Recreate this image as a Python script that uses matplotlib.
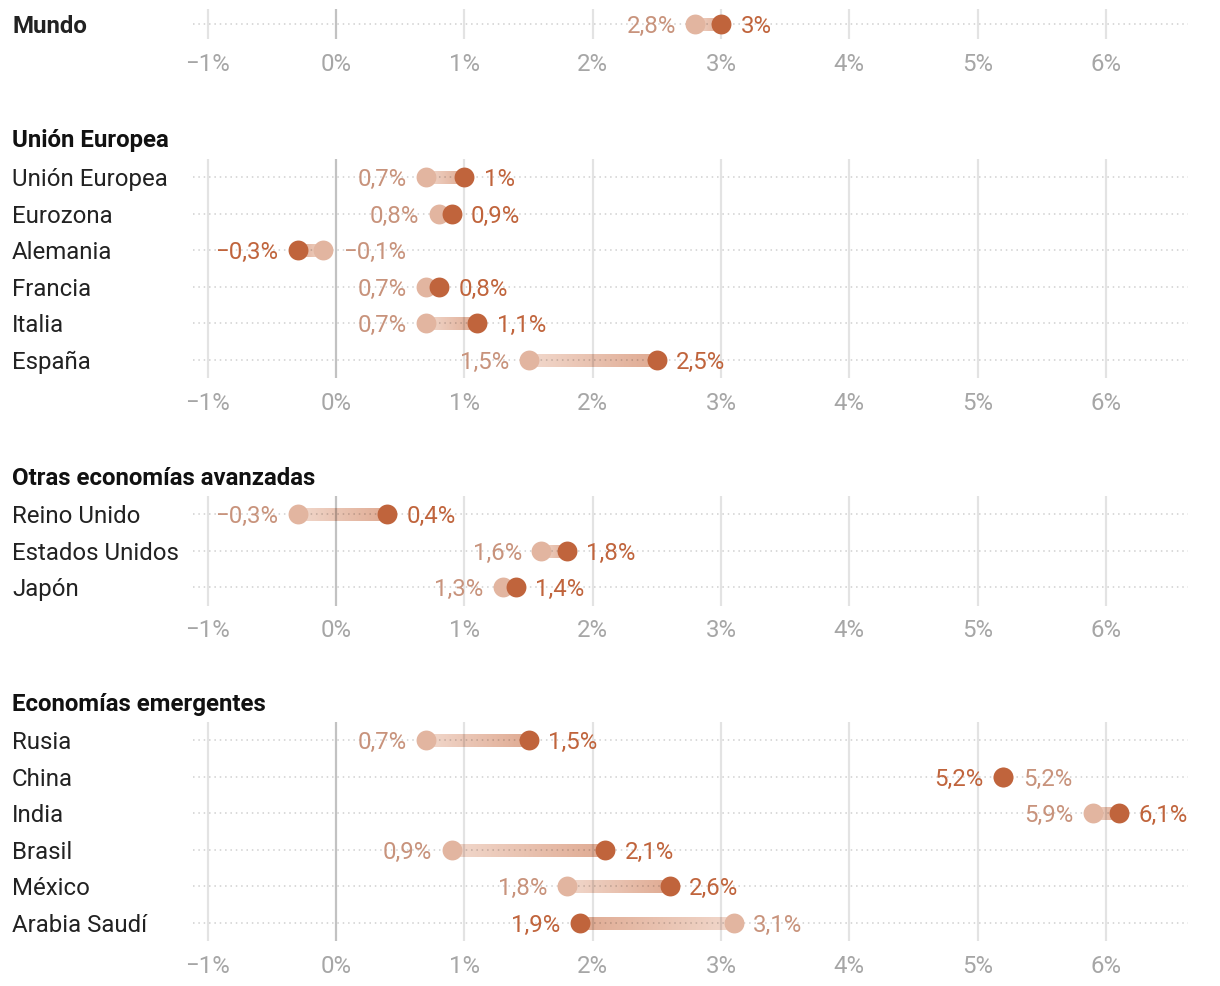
import numpy as np
import matplotlib
matplotlib.use("Agg")
import matplotlib.pyplot as plt
import matplotlib.transforms as mtransforms
from matplotlib.collections import LineCollection
from matplotlib.colors import to_rgb

plt.rcParams['font.family'] = ['Roboto', 'DejaVu Sans']

# --- Data: growth forecasts (old -> new), % ---
mundo_names = ["Mundo"]
mundo_old = [2.8]
mundo_new = [3.0]

ue_names = ["Unión Europea", "Eurozona", "Alemania", "Francia", "Italia", "España"]
ue_old = [0.7, 0.8, -0.1, 0.7, 0.7, 1.5]
ue_new = [1.0, 0.9, -0.3, 0.8, 1.1, 2.5]

adv_names = ["Reino Unido", "Estados Unidos", "Japón"]
adv_old = [-0.3, 1.6, 1.3]
adv_new = [0.4, 1.8, 1.4]

emer_names = ["Rusia", "China", "India", "Brasil", "México", "Arabia Saudí"]
emer_old = [0.7, 5.2, 5.9, 0.9, 1.8, 3.1]
emer_new = [1.5, 5.2, 6.1, 2.1, 2.6, 1.9]

tick_values = [-1, 0, 1, 2, 3, 4, 5, 6]

# --- Styles ---
DARK = "#c0643c"
LIGHT_DOT = "#e2b5a0"
LIGHT_TXT = "#c8937c"
GRAD_START = "#f1d8cc"
GRAD_END = "#dfaa92"
W, H = 1220, 986
ROW = 36.6
FS = 17.3


def fmt(v):
    s = f"{v:.1f}".replace(".", ",")
    if s.endswith(",0"):
        s = s[:-2]
    return s.replace("-", "\u2212") + "%"


fig = plt.figure(figsize=(W / 100, H / 100), dpi=100)


def panel(names, old, new, row0_px, title=None, title_px=None, bold_rows=False):
    n = len(names)
    pad = 0.4 if n == 1 else 0.5
    top = row0_px - pad * ROW
    bottom = row0_px + (n - 1 + pad) * ROW
    ax = fig.add_axes([193 / W, 1 - bottom / H, (1188 - 193) / W, (bottom - top) / H])
    ax.set_xlim(-1.115, 6.64)
    ax.set_ylim(n - 1 + pad, -pad)
    for s in ax.spines.values():
        s.set_visible(False)
    ax.set_yticks([])
    ax.set_xticks(tick_values)
    ax.set_xticklabels([fmt(t) for t in tick_values])
    ax.tick_params(axis="x", length=0, pad=10, labelsize=FS, labelcolor="#a6a6a6")
    # grid drawn over the connectors (translucent) but under the dots
    for t in tick_values:
        ax.axvline(t, color="black", alpha=0.24 if t == 0 else 0.11, lw=1.6, zorder=1.5)
    rows = np.arange(n)
    for r in rows:
        ax.axhline(r, color="black", alpha=0.19, lw=1.1, ls=(0, (1, 2.5)), zorder=1.6)

    # gradient connector: pale at the old value, stronger at the new one
    c0, c1 = np.array(to_rgb(GRAD_START)), np.array(to_rgb(GRAD_END))
    for r, o, v in zip(rows, old, new):
        xs = np.linspace(o, v, 80)
        segs = [[(xs[i], r), (xs[i + 1], r)] for i in range(len(xs) - 1)]
        f = np.linspace(0, 1, len(segs))[:, None]
        cols = c0 * (1 - f) + c1 * f
        ax.add_collection(LineCollection(segs, colors=cols, linewidths=9,
                                         capstyle="butt", antialiaseds=False, zorder=1))
    ax.scatter(old, rows, s=205, color=LIGHT_DOT, zorder=2, linewidths=0)
    ax.scatter(new, rows, s=205, color=DARK, zorder=3, linewidths=0)

    for r, o, v in zip(rows, old, new):
        if v > o:
            left, right = (o, LIGHT_TXT), (v, DARK)
        else:
            left, right = (v, DARK), (o, LIGHT_TXT)
        lo, hi = min(o, v), max(o, v)
        ax.annotate(fmt(left[0]), (lo, r), xytext=(-14, 0), textcoords="offset points",
                    ha="right", va="center_baseline", fontsize=FS, color=left[1])
        ax.annotate(fmt(right[0]), (hi, r), xytext=(14, 0), textcoords="offset points",
                    ha="left", va="center_baseline", fontsize=FS, color=right[1])

    trans = mtransforms.blended_transform_factory(fig.transFigure, ax.transData)
    for r, name in zip(rows, names):
        ax.text(12 / W, r, name, transform=trans, ha="left", va="center_baseline",
                fontsize=FS, color="#222222",
                fontweight="bold" if bold_rows else "normal")
    if title:
        fig.text(12 / W, 1 - title_px / H, title, ha="left", va="center_baseline",
                 fontsize=FS, fontweight="bold", color="#111111")
    return ax


panel(mundo_names, mundo_old, mundo_new, 24, bold_rows=True)
panel(ue_names, ue_old, ue_new, 177, "Unión Europea", 138)
panel(adv_names, adv_old, adv_new, 514, "Otras economías avanzadas", 476)
panel(emer_names, emer_old, emer_new, 740, "Economías emergentes", 702)

fig.savefig("out.png", dpi=100)
